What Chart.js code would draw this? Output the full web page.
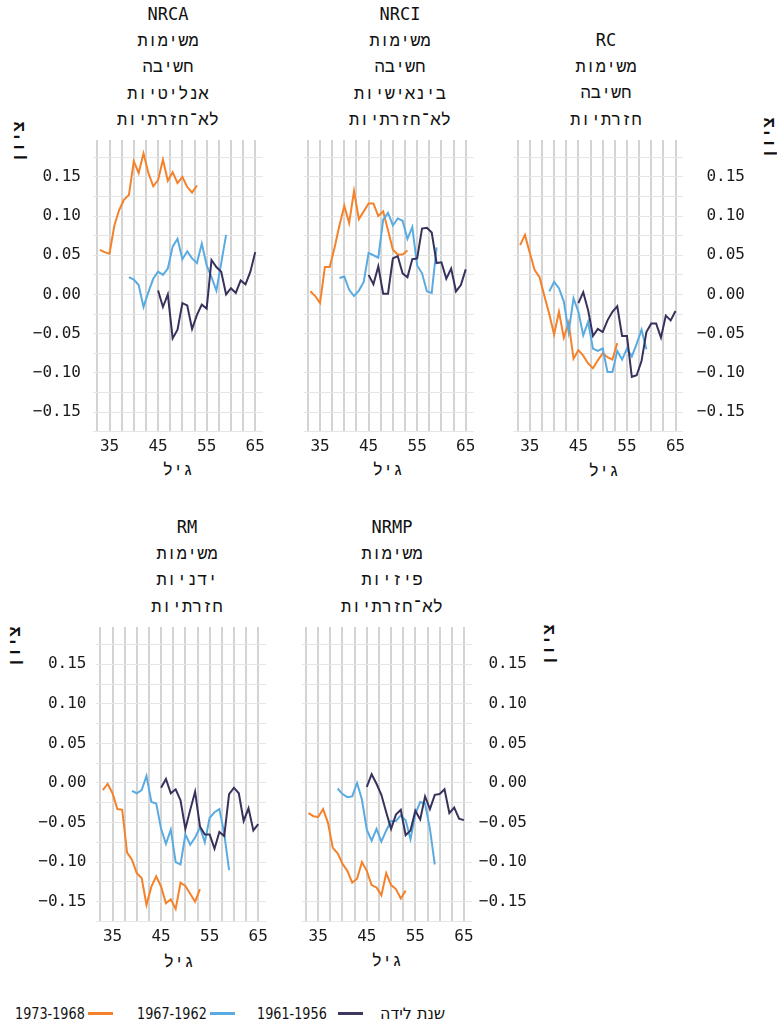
<!DOCTYPE html>
<html lang="he">
<head>
<meta charset="utf-8">
<title>ציון לפי גיל ושנת לידה</title>
<script src="https://cdn.jsdelivr.net/npm/chart.js@4.4.1/dist/chart.umd.min.js"></script>
<style>
  html, body { margin: 0; padding: 0; background: #ffffff; }
  body { width: 777px; height: 1025px; position: relative; overflow: hidden;
         font-family: 'DejaVu Sans Mono', 'Liberation Mono', monospace; color: #111; }
  canvas { position: absolute; }
  .ttl { position: absolute; width: 240px; text-align: center; font-size: 17px;
         line-height: 26.2px; white-space: nowrap; }
  .ttl div { direction: rtl; }
  .axt { position: absolute; font-size: 17px; line-height: 1; white-space: nowrap;
         direction: rtl; transform: translate(-50%, -50%); }
  .axy { position: absolute; font-size: 17px; font-weight: bold; line-height: 1;
         white-space: nowrap; direction: rtl; transform: translate(-50%, -50%) rotate(-90deg); }
  .lg { position: absolute; font-family: 'DejaVu Sans', sans-serif; font-size: 16px;
        line-height: 20px; white-space: nowrap; transform-origin: left center;
        transform: scaleX(0.8); color: #111; }
  .sw { position: absolute; height: 3px; width: 25px; }
</style>
</head>
<body>

<!-- panel titles -->
<div class="ttl" style="left:48px; top:1px;"><div>NRCA</div><div>משימות</div><div>חשיבה</div><div>אנליטיות</div><div>לא־חזרתיות</div></div>
<div class="ttl" style="left:280px; top:1px;"><div>NRCI</div><div>משימות</div><div>חשיבה</div><div>בינאישיות</div><div>לא־חזרתיות</div></div>
<div class="ttl" style="left:486px; top:27px;"><div>RC</div><div>משימות</div><div>חשיבה</div><div>חזרתיות</div></div>
<div class="ttl" style="left:67px; top:514px;"><div>RM</div><div>משימות</div><div>ידניות</div><div>חזרתיות</div></div>
<div class="ttl" style="left:272px; top:514px;"><div>NRMP</div><div>משימות</div><div>פיזיות</div><div>לא־חזרתיות</div></div>

<!-- y axis titles -->
<div class="axy" style="left:18px; top:142px;">ציון</div>
<div class="axy" style="left:768px; top:138px;">ציון</div>
<div class="axy" style="left:14px; top:647px;">ציון</div>
<div class="axy" style="left:548px; top:645px;">ציון</div>

<!-- x axis titles -->
<div class="axt" style="left:178px; top:469px;">גיל</div>
<div class="axt" style="left:388px; top:469px;">גיל</div>
<div class="axt" style="left:604px; top:470px;">גיל</div>
<div class="axt" style="left:179px; top:961px;">גיל</div>
<div class="axt" style="left:387px; top:960px;">גיל</div>

<canvas id="c1"></canvas>
<canvas id="c2"></canvas>
<canvas id="c3"></canvas>
<canvas id="c4"></canvas>
<canvas id="c5"></canvas>

<!-- shared legend -->
<div class="lg" style="left:15px; top:1004px;">1973-1968</div>
<div class="sw" style="left:88px; top:1012px; background:#f5822a;"></div>
<div class="lg" style="left:137px; top:1004px;">1967-1962</div>
<div class="sw" style="left:210px; top:1012px; background:#5aabe2;"></div>
<div class="lg" style="left:257px; top:1004px;">1961-1956</div>
<div class="sw" style="left:338px; top:1012px; background:#3c3860;"></div>
<div class="lg" style="left:380px; top:1004px; direction:rtl; transform:none;">שנת לידה</div>

<script>
// ---- ages observed for each birth cohort ----
const agesCohort6873 = [33, 34, 35, 36, 37, 38, 39, 40, 41, 42, 43, 44, 45, 46, 47, 48, 49, 50, 51, 52, 53];
const agesCohort6267 = [39, 40, 41, 42, 43, 44, 45, 46, 47, 48, 49, 50, 51, 52, 53, 54, 55, 56, 57, 58, 59];
const agesCohort5661 = [45, 46, 47, 48, 49, 50, 51, 52, 53, 54, 55, 56, 57, 58, 59, 60, 61, 62, 63, 64, 65];

// ---- axis ticks ----
const xGridAges = [32.5, 35, 37.5, 40, 42.5, 45, 47.5, 50, 52.5, 55, 57.5, 60, 62.5, 65];
const xLabelAges = [35, 45, 55, 65];
const yGridValues = [-0.175, -0.15, -0.125, -0.1, -0.075, -0.05, -0.025, 0, 0.025, 0.05, 0.075, 0.1, 0.125, 0.15, 0.175];
const yLabelValues = [-0.15, -0.1, -0.05, 0, 0.05, 0.1, 0.15];

// ---- NRCA: non-routine cognitive analytical ----
const nrca6873 = [0.057, 0.054, 0.052, 0.088, 0.108, 0.121, 0.127, 0.170, 0.155, 0.180, 0.155, 0.138, 0.146, 0.172, 0.145, 0.156, 0.142, 0.150, 0.137, 0.130, 0.139];
const nrca6267 = [0.022, 0.019, 0.012, -0.016, 0.003, 0.020, 0.029, 0.025, 0.033, 0.061, 0.071, 0.045, 0.055, 0.046, 0.040, 0.065, 0.037, 0.022, 0.005, 0.040, 0.076];
const nrca5661 = [0.005, -0.016, 0.000, -0.056, -0.045, -0.011, -0.014, -0.044, -0.026, -0.013, -0.018, 0.044, 0.035, 0.029, 0.000, 0.008, 0.002, 0.018, 0.013, 0.029, 0.054];

// ---- NRCI: non-routine cognitive interpersonal ----
const nrci6873 = [0.004, -0.002, -0.011, 0.035, 0.035, 0.060, 0.088, 0.113, 0.091, 0.132, 0.096, 0.106, 0.116, 0.116, 0.100, 0.106, 0.082, 0.057, 0.051, 0.051, 0.056];
const nrci6267 = [0.021, 0.023, 0.006, -0.002, 0.005, 0.016, 0.053, 0.050, 0.047, 0.095, 0.104, 0.088, 0.097, 0.094, 0.071, 0.086, 0.037, 0.027, 0.004, 0.002, 0.060];
const nrci5661 = [0.025, 0.013, 0.036, 0.001, 0.001, 0.046, 0.049, 0.027, 0.022, 0.045, 0.046, 0.084, 0.085, 0.079, 0.040, 0.041, 0.020, 0.033, 0.004, 0.012, 0.032];

// ---- RC: routine cognitive ----
const rc6873 = [0.063, 0.076, 0.053, 0.031, 0.022, -0.002, -0.025, -0.051, -0.022, -0.055, -0.036, -0.082, -0.071, -0.078, -0.088, -0.094, -0.084, -0.075, -0.080, -0.083, -0.062];
const rc6267 = [0.004, 0.016, 0.008, -0.009, -0.048, -0.005, -0.022, -0.052, -0.035, -0.069, -0.072, -0.069, -0.099, -0.099, -0.072, -0.083, -0.069, -0.079, -0.063, -0.045, -0.070];
const rc5661 = [-0.011, 0.003, -0.020, -0.053, -0.044, -0.048, -0.033, -0.022, -0.015, -0.053, -0.053, -0.105, -0.103, -0.085, -0.048, -0.037, -0.037, -0.055, -0.027, -0.033, -0.021];

// ---- RM: routine manual ----
const rm6873 = [-0.009, -0.001, -0.013, -0.033, -0.034, -0.088, -0.097, -0.114, -0.120, -0.154, -0.131, -0.118, -0.131, -0.152, -0.147, -0.159, -0.126, -0.130, -0.140, -0.150, -0.134];
const rm6267 = [-0.010, -0.013, -0.009, 0.009, -0.024, -0.026, -0.058, -0.077, -0.059, -0.100, -0.103, -0.065, -0.078, -0.069, -0.056, -0.075, -0.044, -0.037, -0.033, -0.064, -0.110];
const rm5661 = [-0.006, 0.005, -0.013, -0.008, -0.022, -0.058, -0.034, -0.011, -0.055, -0.065, -0.065, -0.083, -0.062, -0.067, -0.014, -0.006, -0.013, -0.048, -0.032, -0.060, -0.052];

// ---- NRMP: non-routine manual physical ----
const nrmp6873 = [-0.038, -0.042, -0.043, -0.033, -0.050, -0.082, -0.089, -0.102, -0.111, -0.126, -0.121, -0.100, -0.111, -0.129, -0.132, -0.142, -0.114, -0.129, -0.134, -0.146, -0.136];
const nrmp6267 = [-0.007, -0.014, -0.018, -0.017, 0.000, -0.021, -0.059, -0.073, -0.058, -0.074, -0.060, -0.048, -0.048, -0.041, -0.047, -0.071, -0.039, -0.024, -0.026, -0.058, -0.103];
const nrmp5661 = [-0.005, 0.011, -0.001, -0.015, -0.037, -0.058, -0.040, -0.034, -0.066, -0.060, -0.035, -0.046, -0.017, -0.033, -0.015, -0.014, -0.008, -0.038, -0.031, -0.045, -0.047];

const COLOR_6873 = '#f5822a';
const COLOR_6267 = '#5aabe2';
const COLOR_5661 = '#36325c';

const TICK_FONT = { family: "'DejaVu Sans Mono', 'Liberation Mono', monospace", size: 16 };
const X_MIN = 31.6, X_MAX = 66.6;
const Y_MIN = -0.175, Y_MAX = 0.197;

function points(ages, values) {
  return ages.map((a, i) => ({ x: a, y: values[i] }));
}

function fmtY(v) {
  return (v < 0 ? '\u2212' : '') + Math.abs(v).toFixed(2);
}

// plot-area placement of each small multiple (left, right, top, bottom) and its value axis side
function drawPanel(canvasId, box, side, labelEdge, young, mid, old) {
  const cv = document.getElementById(canvasId);
  const X_AXIS_H = 26;
  const top = Math.floor(box.T) - 10;
  const padTop = box.T - top;
  const height = Math.ceil(box.B - top + X_AXIS_H + 4);
  const padBottom = height - (box.B - top) - X_AXIS_H;

  let left, width, padLeft, padRight, yWidth;
  if (side === 'left') {
    left = Math.floor(box.L) - 92;
    yWidth = box.L - left;
    padLeft = 0;
    width = Math.ceil(box.R - left + 10);
    padRight = width - (box.R - left);
  } else if (side === 'right') {
    left = Math.floor(box.L) - 10;
    padLeft = box.L - left;
    yWidth = labelEdge - box.R;
    width = Math.ceil(labelEdge - left + 4);
    padRight = width - (labelEdge - left);
  } else {
    left = Math.floor(box.L) - 10;
    padLeft = box.L - left;
    yWidth = 0;
    width = Math.ceil(box.R - left + 10);
    padRight = width - (box.R - left);
  }

  cv.width = width; cv.height = height;
  cv.style.width = width + 'px'; cv.style.height = height + 'px';
  cv.style.left = left + 'px'; cv.style.top = top + 'px';

  const zeroPad = s => { s.paddingLeft = 0; s.paddingRight = 0; s.paddingTop = 0; s.paddingBottom = 0; };

  new Chart(cv, {
    type: 'line',
    data: {
      datasets: [
        { label: '1961-1956', data: points(agesCohort5661, old), borderColor: COLOR_5661, order: 0 },
        { label: '1967-1962', data: points(agesCohort6267, mid), borderColor: COLOR_6267, order: 1 },
        { label: '1973-1968', data: points(agesCohort6873, young), borderColor: COLOR_6873, order: 2 }
      ].map(d => Object.assign(d, { borderWidth: 2, pointRadius: 0, tension: 0, fill: false }))
    },
    options: {
      responsive: false,
      animation: false,
      devicePixelRatio: 1,
      layout: { padding: { left: padLeft, right: padRight, top: padTop, bottom: padBottom } },
      plugins: { legend: { display: false }, tooltip: { enabled: false } },
      scales: {
        x: {
          type: 'linear', min: X_MIN, max: X_MAX,
          afterBuildTicks: s => { s.ticks = xGridAges.map(v => ({ value: v })); },
          afterFit: s => { s.height = X_AXIS_H; zeroPad(s); },
          ticks: {
            autoSkip: false, maxRotation: 0, padding: 6, font: TICK_FONT, color: '#1a1a1a',
            callback: v => (xLabelAges.includes(v) ? String(v) : '')
          },
          grid: { color: '#d3d3d3', lineWidth: 2, drawTicks: false },
          border: { display: false }
        },
        y: {
          type: 'linear', position: side === 'right' ? 'right' : 'left',
          min: Y_MIN, max: Y_MAX,
          afterBuildTicks: s => { s.ticks = yGridValues.map(v => ({ value: v })); },
          afterFit: s => { s.width = yWidth; zeroPad(s); },
          ticks: {
            display: side !== 'none', autoSkip: false, font: TICK_FONT, color: '#1a1a1a',
            padding: side === 'left' ? box.L - labelEdge : 0,
            crossAlign: side === 'right' ? 'far' : 'near',
            callback: v => (yLabelValues.includes(v) ? fmtY(v) : '')
          },
          grid: { color: '#e6e6e6', lineWidth: 1, drawTicks: false },
          border: { display: false }
        }
      }
    }
  });
}

drawPanel('c1', { L: 93, R: 263, T: 140, B: 431.7 }, 'left', 81, nrca6873, nrca6267, nrca5661);
drawPanel('c2', { L: 303.5, R: 473.5, T: 140, B: 431.7 }, 'none', 0, nrci6873, nrci6267, nrci5661);
drawPanel('c3', { L: 513.3, R: 683.3, T: 140, B: 431.7 }, 'right', 745, rc6873, rc6267, rc5661);
drawPanel('c4', { L: 96, R: 266, T: 627, B: 921.5 }, 'left', 86.5, rm6873, rm6267, rm5661);
drawPanel('c5', { L: 301.7, R: 471.7, T: 627, B: 921.5 }, 'right', 527, nrmp6873, nrmp6267, nrmp5661);
</script>
</body>
</html>
